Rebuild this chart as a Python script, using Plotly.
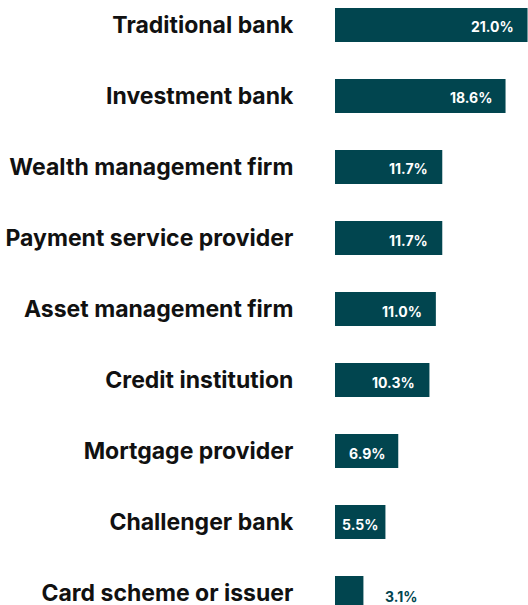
import plotly.graph_objects as go

categories = ["Traditional bank", "Investment bank", "Wealth management firm",
              "Payment service provider", "Asset management firm", "Credit institution",
              "Mortgage provider", "Challenger bank", "Card scheme or issuer"]
values = [21.0, 18.6, 11.7, 11.7, 11.0, 10.3, 6.9, 5.5, 3.1]
labels = [f"{v:.1f}%" for v in values]

BAR = "#01454F"

fig = go.Figure(go.Bar(
    x=values, y=categories, orientation="h",
    marker=dict(color=BAR, line=dict(width=0)),
    width=0.48, hoverinfo="skip",
))

annotations = []
for c, v, t in zip(categories, values, labels):
    if v >= 8:
        annotations.append(dict(x=v, y=c, xref="x", yref="y", text=t, showarrow=False,
                                xanchor="right", xshift=-12, yshift=-2,
                                font=dict(family="Inter", size=14, color="white", weight="bold")))
    elif v >= 5:
        annotations.append(dict(x=v / 2, y=c, xref="x", yref="y", text=t, showarrow=False,
                                xanchor="center", yshift=-2,
                                font=dict(family="Inter", size=14, color="white", weight="bold")))
    else:
        annotations.append(dict(x=v, y=c, xref="x", yref="y", text=t, showarrow=False,
                                xanchor="left", xshift=20, yshift=-3,
                                font=dict(family="Inter", size=14, color=BAR, weight="bold")))

fig.update_layout(
    width=528, height=605,
    margin=dict(l=335, r=0, t=0, b=0, autoexpand=False),
    paper_bgcolor="white", plot_bgcolor="white",
    showlegend=False,
    annotations=annotations,
    xaxis=dict(range=[0, 21.05], visible=False, fixedrange=True, automargin=False),
    yaxis=dict(
        categoryorder="array", categoryarray=categories,
        range=[8.169, -0.352], autorange=False, automargin=False,
        showgrid=False, zeroline=False, showline=False,
        ticks="outside", ticklen=36, tickcolor="rgba(0,0,0,0)",
        tickfont=dict(family="Inter", size=23, color="#111111", weight="bold"),
    ),
)

fig.write_html("out.html", config={"displayModeBar": False},
               post_script="document.body.style.margin='0px';document.body.style.overflow='hidden';")
